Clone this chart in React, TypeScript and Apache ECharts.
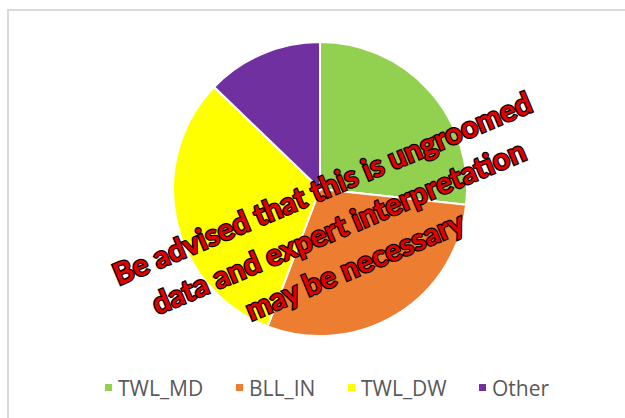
import React, { useEffect, useRef } from "react";
import * as echarts from "echarts";

const categories = ["TWL_MD", "BLL_IN", "TWL_DW", "Other"];
const values = [26.7, 29.1, 31.4, 12.8];
const colors = ["#92d050", "#ed7d31", "#ffff00", "#7030a0"];
const legendLefts = [103, 234, 346, 477];
const watermarkLines = [
  "Be advised that this is ungroomed",
  "data and expert interpretation",
  "may be necessary",
];

export default function App() {
  const ref = useRef<HTMLDivElement>(null);
  useEffect(() => {
    if (!ref.current) return;
    const chart = echarts.init(ref.current, undefined, { renderer: "svg" });
    chart.setOption({
      animation: false,
      backgroundColor: "#ffffff",
      legend: categories.map((c, i) => ({
        left: legendLefts[i],
        top: 377,
        padding: 0,
        icon: "rect",
        itemWidth: 9,
        itemHeight: 9,
        textStyle: { color: "#595959", fontSize: 21, fontFamily: "Open Sans" },
        data: [c],
      })),
      series: [
        {
          type: "pie",
          center: [320, 189],
          radius: 147,
          startAngle: 90,
          clockwise: true,
          label: { show: false },
          labelLine: { show: false },
          itemStyle: { borderColor: "#ffffff", borderWidth: 2 },
          data: categories.map((c, i) => ({
            name: c,
            value: values[i],
            itemStyle: { color: colors[i] },
          })),
        },
      ],
      graphic: [
        {
          type: "line",
          shape: { x1: 7, y1: 10, x2: 625, y2: 10 },
          style: { stroke: "#d9d9d9", lineWidth: 2 },
        },
        {
          type: "line",
          shape: { x1: 8, y1: 10, x2: 8, y2: 418 },
          style: { stroke: "#d9d9d9", lineWidth: 2 },
        },
        {
          type: "text",
          x: 338,
          y: 226,
          rotation: (22.8 * Math.PI) / 180,
          z: 100,
          style: {
            text: watermarkLines.join("\n"),
            font: "bold 30px Lato",
            fill: "#e00000",
            stroke: "#000000",
            lineWidth: 2.5,
            strokeFirst: true,
            lineHeight: 42,
            align: "center",
            verticalAlign: "middle",
            shadowColor: "rgba(0,0,0,0.55)",
            shadowBlur: 2,
            shadowOffsetX: 1,
            shadowOffsetY: 1,
          },
        },
      ],
    });
    return () => chart.dispose();
  }, []);
  return (
    <div
      ref={ref}
      style={{ position: "fixed", left: 0, top: 0, width: 625, height: 418 }}
    />
  );
}
